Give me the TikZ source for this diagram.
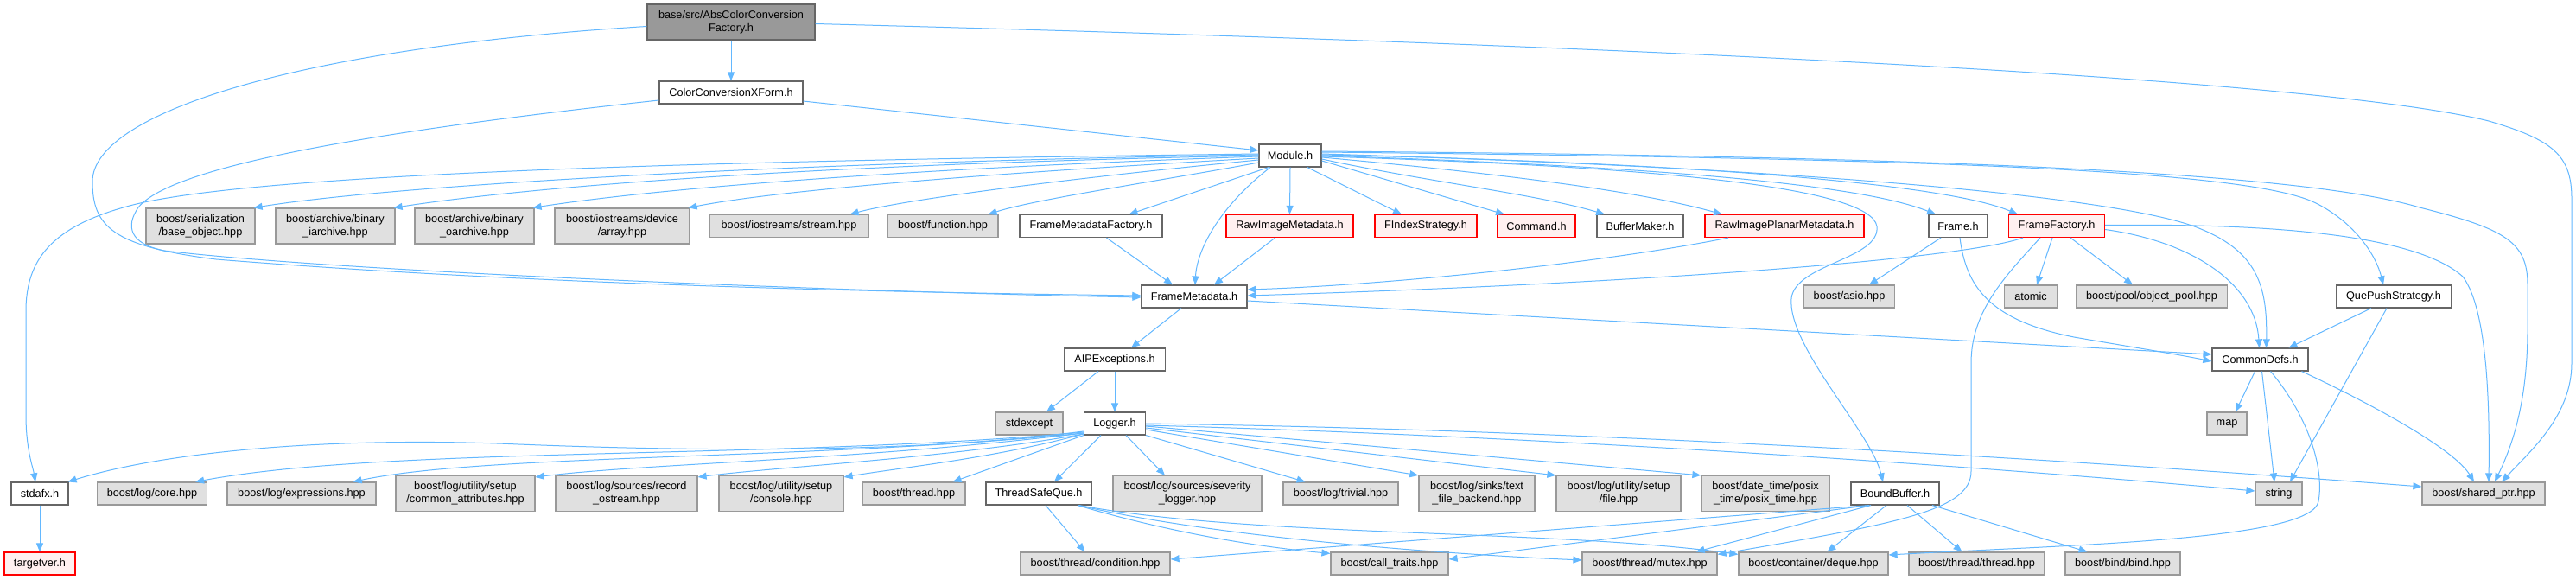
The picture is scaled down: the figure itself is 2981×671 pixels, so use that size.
\documentclass[tikz,border=0pt]{standalone}
\usepackage{fontspec}
\setmainfont{Liberation Sans}
\usetikzlibrary{arrows.meta}
\definecolor{edgec}{HTML}{63B8FF}
\definecolor{grayfill}{HTML}{E0E0E0}
\definecolor{graydraw}{HTML}{999999}
\definecolor{whitedraw}{HTML}{666666}
\definecolor{redfill}{HTML}{FFF0F0}
\definecolor{rootfill}{HTML}{999999}
\tikzset{
 nb/.style={draw, rectangle, inner sep=0pt, minimum height=26pt, align=center, font=\fontsize{12.7}{15}\selectfont, line width=1.2pt},
 gnode/.style={nb, fill=grayfill, draw=graydraw},
 wnode/.style={nb, fill=white, draw=whitedraw},
 rnode/.style={nb, fill=redfill, draw=red},
 rootnode/.style={nb, fill=rootfill, draw=whitedraw},
 tall/.style={minimum height=41pt},
 dep/.style={draw=edgec, line width=1pt, -{Triangle[length=10pt,width=8pt]}},
}
\begin{document}
\begin{tikzpicture}[x=1pt,y=-1pt]
\useasboundingbox[fill=white] (0,0) rectangle (2981,671);
% ---------- nodes ----------
\node[rootnode,tall,minimum width=194pt] (root) at (846,25.5) {base/src/AbsColorConversion\\Factory.h};
\node[wnode,minimum width=166pt] (ccx) at (846,107) {ColorConversionXForm.h};
\node[wnode,minimum width=72pt] (module) at (1493,180) {Module.h};
% row 2
\node[gnode,tall,minimum width=126pt] (serial) at (232,261.5) {boost/serialization\\/base\_object.hpp};
\node[gnode,tall,minimum width=138pt] (iarch) at (388,261.5) {boost/archive/binary\\\_iarchive.hpp};
\node[gnode,tall,minimum width=138pt] (oarch) at (549,261.5) {boost/archive/binary\\\_oarchive.hpp};
\node[gnode,tall,minimum width=156pt] (array) at (720,261.5) {boost/iostreams/device\\/array.hpp};
\node[gnode,minimum width=184pt] (stream) at (913,261.5) {boost/iostreams/stream.hpp};
\node[gnode,minimum width=128pt] (function) at (1091,261.5) {boost/function.hpp};
\node[wnode,minimum width=165pt] (fmf) at (1262.5,261.5) {FrameMetadataFactory.h};
\node[rnode,minimum width=147pt] (rim) at (1492.5,261.5) {RawImageMetadata.h};
\node[rnode,minimum width=118pt] (fidx) at (1650,261.5) {FIndexStrategy.h};
\node[rnode,minimum width=90pt] (cmd) at (1778,261.5) {Command.h};
\node[wnode,minimum width=100pt] (bm) at (1898,261.5) {BufferMaker.h};
\node[rnode,minimum width=184pt] (ripm) at (2065,261.5) {RawImagePlanarMetadata.h};
\node[wnode,minimum width=68pt] (frame) at (2266,261.5) {Frame.h};
\node[rnode,minimum width=111pt] (ff) at (2380,261.5) {FrameFactory.h};
% row 3
\node[wnode,minimum width=122pt] (fm) at (1382,343) {FrameMetadata.h};
\node[gnode,minimum width=105pt] (asio) at (2140,343) {boost/asio.hpp};
\node[gnode,minimum width=61pt] (atomic) at (2350,343) {atomic};
\node[gnode,minimum width=175pt] (pool) at (2490,343) {boost/pool/object\_pool.hpp};
\node[wnode,minimum width=133pt] (qps) at (2770,343) {QuePushStrategy.h};
% row 4
\node[wnode,minimum width=117pt] (aip) at (1290,416) {AIPExceptions.h};
\node[wnode,minimum width=111pt] (cd) at (2615.5,416) {CommonDefs.h};
% row 5
\node[gnode,minimum width=78pt] (stdexcept) at (1191,490) {stdexcept};
\node[wnode,minimum width=71pt] (logger) at (1290,490) {Logger.h};
\node[gnode,minimum width=46pt] (map) at (2577,490) {map};
% row 6
\node[wnode,minimum width=66pt] (stdafx) at (46,571) {stdafx.h};
\node[gnode,minimum width=127pt] (core) at (176,571) {boost/log/core.hpp};
\node[gnode,minimum width=172pt] (expr) at (349,571) {boost/log/expressions.hpp};
\node[gnode,tall,minimum width=161pt] (common) at (538.5,571) {boost/log/utility/setup\\/common\_attributes.hpp};
\node[gnode,tall,minimum width=164pt] (record) at (725,571) {boost/log/sources/record\\\_ostream.hpp};
\node[gnode,tall,minimum width=144pt] (console) at (904,571) {boost/log/utility/setup\\/console.hpp};
\node[gnode,minimum width=119pt] (bthread) at (1057.5,571) {boost/thread.hpp};
\node[wnode,minimum width=122pt] (tsq) at (1202,571) {ThreadSafeQue.h};
\node[gnode,tall,minimum width=172pt] (sev) at (1374,571) {boost/log/sources/severity\\\_logger.hpp};
\node[gnode,minimum width=133pt] (trivial) at (1551.5,571) {boost/log/trivial.hpp};
\node[gnode,tall,minimum width=134pt] (textfile) at (1709,571) {boost/log/sinks/text\\\_file\_backend.hpp};
\node[gnode,tall,minimum width=144pt] (file) at (1873,571) {boost/log/utility/setup\\/file.hpp};
\node[gnode,tall,minimum width=148pt] (posix) at (2043,571) {boost/date\_time/posix\\\_time/posix\_time.hpp};
\node[wnode,minimum width=102pt] (bb) at (2193,571) {BoundBuffer.h};
\node[gnode,minimum width=54pt] (string) at (2637,571) {string};
\node[gnode,minimum width=142pt] (shared) at (2874,571) {boost/shared\_ptr.hpp};
% row 7
\node[rnode,minimum width=82pt] (targetver) at (46,652) {targetver.h};
\node[gnode,minimum width=173pt] (condition) at (1267.5,652) {boost/thread/condition.hpp};
\node[gnode,minimum width=136pt] (calltraits) at (1608,652) {boost/call\_traits.hpp};
\node[gnode,minimum width=156pt] (mutex) at (1909,652) {boost/thread/mutex.hpp};
\node[gnode,minimum width=173pt] (deque) at (2098.5,652) {boost/container/deque.hpp};
\node[gnode,minimum width=157pt] (tthread) at (2287.5,652) {boost/thread/thread.hpp};
\node[gnode,minimum width=133pt] (bind) at (2456.5,652) {boost/bind/bind.hpp};
% ---------- edges ----------
% root
\draw[dep] (root.south) -- (ccx.north);
\draw[dep] ([yshift=-5pt]root.west) .. controls (350,55) and (107,130) .. (107,210) .. controls (107,262) and (130,285) .. (250,300) .. controls (600,328) and (1000,338) .. ([yshift=1pt]fm.west);
\draw[dep] ([yshift=-2pt]root.east) .. controls (2000,55) and (2700,95) .. (2880,140) .. controls (2955,162) and (2976,180) .. (2976,230) -- (2976,420) .. controls (2976,480) and (2930,520) .. ([xshift=21pt]shared.north);
% ccx
\draw[dep] ([yshift=-9pt]ccx.west) .. controls (450,150) and (200,190) .. (160,240) .. controls (145,262) and (150,282) .. (190,290) .. controls (400,315) and (1000,338) .. ([yshift=-1pt]fm.west);
\draw[dep] ([yshift=-10pt]ccx.east) -- ([yshift=6pt]module.west);
% module, left fan
\draw[dep] ([yshift=2pt]module.west) .. controls (900,185) and (300,198) .. (150,238) .. controls (60,262) and (30,300) .. (30,360) -- (30,480) .. controls (30,520) and (38,540) .. ([xshift=-5pt]stdafx.north);
\draw[dep] ([yshift=1pt]module.west) .. controls (900,188) and (450,215) .. ([xshift=-2pt]serial.north east);
\draw[dep] (module.west) .. controls (950,190) and (620,215) .. ([xshift=-2pt]iarch.north east);
\draw[dep] ([yshift=-1pt]module.west) .. controls (1050,195) and (760,218) .. ([xshift=-2pt]oarch.north east);
\draw[dep] ([yshift=-3pt]module.west) .. controls (1150,200) and (900,220) .. ([xshift=-2pt]array.north east);
\draw[dep] ([yshift=-5pt]module.west) .. controls (1250,205) and (1050,230) .. ([xshift=-22pt]stream.north east);
\draw[dep] ([yshift=-8pt]module.west) .. controls (1350,208) and (1200,230) .. ([xshift=-12pt]function.north east);
\draw[dep] ([xshift=-25pt]module.south) -- ([xshift=44pt]fmf.north);
\draw[dep] ([xshift=-23pt]module.south) .. controls (1410,240) and (1385,290) .. ([xshift=1pt]fm.north);
\draw[dep] (module.south) -- (rim.north);
% module, right fan
\draw[dep] ([xshift=20pt]module.south) -- ([xshift=-28pt]fidx.north);
\draw[dep] ([yshift=-6pt]module.east) -- ([xshift=-37pt]cmd.north);
\draw[dep] ([yshift=-4pt]module.east) .. controls (1650,210) and (1780,225) .. ([xshift=-41pt]bm.north);
\draw[dep] ([yshift=-2pt]module.east) .. controls (1750,202) and (1900,222) .. ([xshift=-72pt]ripm.north);
\draw[dep] (module.east) .. controls (1900,192) and (2150,212) .. ([xshift=-26pt]frame.north);
\draw[dep] ([yshift=1pt]module.east) .. controls (1950,188) and (2250,212) .. ([xshift=-45pt]ff.north);
\draw[dep] ([yshift=4pt]module.east) .. controls (2200,183) and (2600,195) .. (2680,235) .. controls (2720,255) and (2748,290) .. ([xshift=-12pt]qps.north);
\draw[dep] ([yshift=2pt]module.east) .. controls (2100,195) and (2450,228) .. (2542,263) .. controls (2612,290) and (2624,330) .. ([xshift=7pt]cd.north);
\draw[dep] ([yshift=5pt]module.east) .. controls (2150,180) and (2650,195) .. (2800,240) .. controls (2900,265) and (2925,280) .. (2925,330) -- (2925,380) .. controls (2925,470) and (2905,520) .. ([xshift=13pt]shared.north);
\draw[dep] ([yshift=-1pt]module.east) .. controls (1900,192) and (2165,215) .. (2172,262) .. controls (2176,300) and (2078,305) .. (2073,345) .. controls (2068,400) and (2165,500) .. ([xshift=-14pt]bb.north);
% into FrameMetadata
\draw[dep] ([xshift=18pt]fmf.south) -- ([xshift=-25pt]fm.north);
\draw[dep] ([xshift=-17pt]rim.south) -- ([xshift=23pt]fm.north);
\draw[dep] ([xshift=-65pt]ripm.south) .. controls (1850,305) and (1600,330) .. ([yshift=8pt]fm.east);
\draw[dep] ([xshift=-39pt]ff.south) .. controls (2270,300) and (1900,328) .. ([yshift=1pt]fm.east);
% FrameMetadata out
\draw[dep] ([xshift=-15pt]fm.south) -- ([xshift=19pt]aip.north);
\draw[dep] ([yshift=-5pt]fm.east) -- ([yshift=6pt]cd.west);
% Frame
\draw[dep] ([xshift=-20pt]frame.south) -- ([xshift=23pt]asio.north);
\draw[dep] ([xshift=2pt]frame.south) .. controls (2275,330) and (2300,370) .. (2400,390) .. controls (2470,402) and (2520,410) .. ([yshift=-2pt]cd.west);
% FrameFactory
\draw[dep] ([xshift=-5pt]ff.south) -- ([xshift=7pt]atomic.north);
\draw[dep] ([xshift=16pt]ff.south) -- ([xshift=-22pt]pool.north);
\draw[dep] ([yshift=-4pt]ff.east) .. controls (2540,280) and (2610,330) .. ([xshift=-1pt]cd.north);
\draw[dep] ([yshift=1pt]ff.east) .. controls (2650,258) and (2800,275) .. (2850,320) .. controls (2880,360) and (2881,480) .. ([xshift=6pt]shared.north);
\draw[dep] ([xshift=-19pt]ff.south) .. controls (2320,320) and (2281,360) .. (2281,420) -- (2281,545) .. controls (2281,590) and (2200,605) .. ([yshift=-3pt]mutex.north east);
% QuePushStrategy
\draw[dep] ([xshift=-26pt]qps.south) -- ([xshift=33pt]cd.north);
\draw[dep] ([xshift=-8pt]qps.south) -- ([xshift=13pt]string.north);
% CommonDefs
\draw[dep] ([xshift=-6pt]cd.south) -- ([xshift=10pt]map.north);
\draw[dep] ([xshift=2pt]cd.south) -- ([xshift=-5pt]string.north);
\draw[dep] ([xshift=48pt]cd.south) .. controls (2750,470) and (2840,520) .. ([xshift=-11pt]shared.north);
\draw[dep] ([xshift=12pt]cd.south) .. controls (2670,480) and (2690,540) .. (2683,580) .. controls (2675,625) and (2400,630) .. ([yshift=10pt]deque.east);
% AIPExceptions
\draw[dep] ([xshift=-19pt]aip.south) -- ([xshift=20pt]stdexcept.north);
\draw[dep] (aip.south) -- (logger.north);
% Logger
\draw[dep] ([yshift=-9pt]logger.west) .. controls (1050,525) and (800,522) .. (600,514) .. controls (400,505) and (200,520) .. ([xshift=-1pt]stdafx.north east);
\draw[dep] ([yshift=-10pt]logger.west) .. controls (900,532) and (450,516) .. ([xshift=-14pt]core.north east);
\draw[dep] ([yshift=-11pt]logger.west) .. controls (950,532) and (560,525) .. ([xshift=-27pt]expr.north east);
\draw[dep] ([yshift=-11pt]logger.west) .. controls (1000,532) and (750,536) .. ([yshift=-2pt]common.north east);
\draw[dep] ([yshift=-12pt]logger.west) .. controls (1100,530) and (900,540) .. ([yshift=-2pt]record.north east);
\draw[dep] ([yshift=-12pt]logger.west) .. controls (1150,530) and (1050,540) .. ([yshift=-2pt]console.north east);
\draw[dep] (logger.south west) -- ([xshift=-15pt]bthread.north east);
\draw[dep] ([xshift=-16pt]logger.south) -- ([xshift=18pt]tsq.north);
\draw[dep] ([xshift=13pt]logger.south) -- ([xshift=-26pt]sev.north);
\draw[dep] (logger.south east) -- ([xshift=-41pt]trivial.north);
\draw[dep] ([yshift=-7pt]logger.east) -- (textfile.north west);
\draw[dep] ([yshift=-5pt]logger.east) -- (file.north west);
\draw[dep] ([yshift=-3pt]logger.east) -- (posix.north west);
\draw[dep] ([yshift=-2pt]logger.east) .. controls (1800,505) and (2300,540) .. ([yshift=3pt]string.west);
\draw[dep] (logger.east) .. controls (1900,498) and (2500,540) .. ([yshift=8pt]shared.west);
% ThreadSafeQue
\draw[dep] ([xshift=8pt]tsq.south) -- ([xshift=-12pt]condition.north);
\draw[dep] ([xshift=45pt]tsq.south) .. controls (1350,615) and (1450,632) .. ([yshift=-2pt]calltraits.north west);
\draw[dep] ([xshift=46pt]tsq.south) .. controls (1400,620) and (1650,640) .. ([yshift=4pt]mutex.west);
\draw[dep] ([xshift=47pt]tsq.south) .. controls (1450,622) and (1800,612) .. ([yshift=-3pt]deque.north west);
% BoundBuffer
\draw[dep] ([xshift=-30pt]bb.south) -- ([yshift=5pt]condition.east);
\draw[dep] ([xshift=-30pt]bb.south) -- ([yshift=5pt]calltraits.east);
\draw[dep] ([xshift=-28pt]bb.south) -- ([xshift=-25pt]mutex.north east);
\draw[dep] ([xshift=-10pt]bb.south) -- ([xshift=16pt]deque.north);
\draw[dep] ([xshift=14pt]bb.south) -- ([xshift=-17pt]tthread.north);
\draw[dep] ([xshift=43pt]bb.south) -- ([xshift=-41pt]bind.north);
% stdafx
\draw[dep] (stdafx.south) -- (targetver.north);
\end{tikzpicture}
\end{document}
